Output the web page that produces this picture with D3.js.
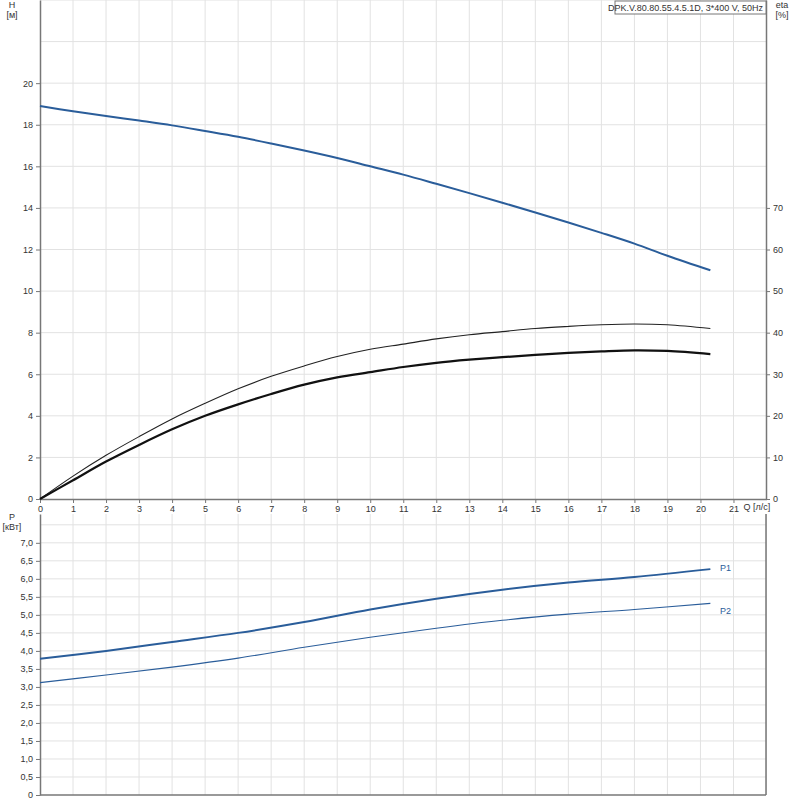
<!DOCTYPE html>
<html><head><meta charset="UTF-8">
<script src="https://d3js.org/d3.v7.min.js"></script>
<style>body{margin:0;background:#fff;font-family:"Liberation Sans",Arial,sans-serif}
text{font-size:9px;fill:#333}</style></head>
<body><svg id="c" width="800" height="800"></svg>
<script>
const qH = [0,1,2,3,4,5,6,7,8,9,10,11,12,13,14,15,16,17,18,19,20.3];
const head = [18.9,18.65,18.42,18.2,17.97,17.7,17.42,17.1,16.76,16.4,16.0,15.6,15.16,14.71,14.25,13.78,13.3,12.8,12.28,11.7,11.0];
const etaThin = [0,5.5,10.5,15,19.25,23,26.5,29.5,32,34.25,36,37.25,38.5,39.5,40.25,41,41.5,41.9,42.1,41.9,41];
const etaThick = [0,4.5,9,13,16.75,20,22.75,25.25,27.5,29.25,30.5,31.75,32.75,33.5,34.1,34.65,35.15,35.5,35.75,35.6,34.85];
const qP = [0,2,4,6,8,10,12,14,16,18,20.3];
const p1 = [3.78,4.0,4.25,4.5,4.8,5.15,5.45,5.7,5.9,6.05,6.27];
const p2 = [3.12,3.33,3.55,3.8,4.1,4.38,4.63,4.85,5.02,5.15,5.32];
const title = "DPK.V.80.80.55.4.5.1D, 3*400 V, 50Hz";

const svg = d3.select("#c");
const L = 40, R = 766;
const x = d3.scaleLinear().domain([0,22]).range([L,R+0.5]);
const yH = d3.scaleLinear().domain([0,24]).range([499,0]);
const yE = d3.scaleLinear().domain([0,120]).range([499,0]);
const yP = d3.scaleLinear().domain([0,7.8]).range([795,514]);
const grid = "#e2e2e2";

// top grid
svg.append("g").selectAll("line").data(d3.range(1,23)).join("line")
  .attr("x1",d=>x(d)).attr("x2",d=>x(d)).attr("y1",0).attr("y2",499).attr("stroke",grid);
svg.append("g").selectAll("line").data(d3.range(2,25,2)).join("line")
  .attr("x1",L).attr("x2",R).attr("y1",d=>yH(d)).attr("y2",d=>yH(d)).attr("stroke",grid);
// bottom grid
svg.append("g").selectAll("line").data(d3.range(1,23)).join("line")
  .attr("x1",d=>x(d)).attr("x2",d=>x(d)).attr("y1",514).attr("y2",795).attr("stroke",grid);
svg.append("g").selectAll("line").data(d3.range(0.5,7.8,0.5)).join("line")
  .attr("x1",L).attr("x2",R).attr("y1",d=>yP(d)).attr("y2",d=>yP(d)).attr("stroke",grid);

function style(g){ g.selectAll("path,line").attr("stroke","#777"); g.selectAll("text").style("font-size","9px").attr("fill","#333"); g.select(".domain").attr("stroke-width",1.5); }

svg.append("g").attr("transform",`translate(${L},0)`)
  .call(d3.axisLeft(yH).tickValues(d3.range(0,21,2)).tickSize(4).tickSizeOuter(0)).call(style);
svg.append("g").attr("transform",`translate(${R},0)`)
  .call(d3.axisRight(yE).tickValues(d3.range(0,71,10)).tickSize(4).tickSizeOuter(0)).call(style);
svg.append("g").attr("transform",`translate(0,499)`)
  .call(d3.axisBottom(x).tickValues(d3.range(0,22)).tickSize(4).tickSizeOuter(0)).call(style);
svg.append("g").attr("transform",`translate(${L},0)`)
  .call(d3.axisLeft(yP).tickValues(d3.range(0,7.01,0.5)).tickFormat(d=>d===0?"0":d.toFixed(1).replace(".",",")).tickSize(4).tickSizeOuter(0)).call(style);
svg.append("line").attr("x1",R).attr("x2",R).attr("y1",514).attr("y2",795).attr("stroke","#777").attr("stroke-width",1.5);
svg.append("line").attr("x1",L).attr("x2",R).attr("y1",795).attr("y2",795).attr("stroke","#777").attr("stroke-width",1.5);

svg.append("text").attr("x",12).attr("y",8).attr("text-anchor","middle").text("H");
svg.append("text").attr("x",12).attr("y",18).attr("text-anchor","middle").text("[м]");
svg.append("text").attr("x",782).attr("y",8).attr("text-anchor","middle").text("eta");
svg.append("text").attr("x",782).attr("y",18).attr("text-anchor","middle").text("[%]");
svg.append("text").attr("x",12).attr("y",520).attr("text-anchor","middle").text("P");
svg.append("text").attr("x",12).attr("y",530).attr("text-anchor","middle").text("[кВт]");
svg.append("rect").attr("x",R-151).attr("y",1).attr("width",151).attr("height",13).attr("fill","#fff").attr("stroke","#777");
svg.append("text").attr("x",R-3).attr("y",11).attr("text-anchor","end").text(title);
svg.append("rect").attr("x",x(21.25)).attr("y",501).attr("width",28).attr("height",11).attr("fill","#fff");
svg.append("text").attr("x",x(21.3)).attr("y",510).text("Q [л/с]");

const line = (xs,ys,sy)=>d3.line().curve(d3.curveCatmullRom).x((d,i)=>x(xs[i])).y(d=>sy(d))(ys);
svg.append("path").attr("d",line(qH,head,yH)).attr("fill","none").attr("stroke","#2a5d9a").attr("stroke-width",2);
svg.append("path").attr("d",line(qH,etaThin,yE)).attr("fill","none").attr("stroke","#222").attr("stroke-width",1.1);
svg.append("path").attr("d",line(qH,etaThick,yE)).attr("fill","none").attr("stroke","#111").attr("stroke-width",2.2);
svg.append("path").attr("d",line(qP,p1,yP)).attr("fill","none").attr("stroke","#2a5d9a").attr("stroke-width",2);
svg.append("path").attr("d",line(qP,p2,yP)).attr("fill","none").attr("stroke","#2a5d9a").attr("stroke-width",1.1);
svg.append("text").attr("x",720).attr("y",yP(6.3)+3).style("fill","#2a5d9a").text("P1");
svg.append("text").attr("x",720).attr("y",yP(5.1)+3).style("fill","#2a5d9a").text("P2");
</script></body></html>
